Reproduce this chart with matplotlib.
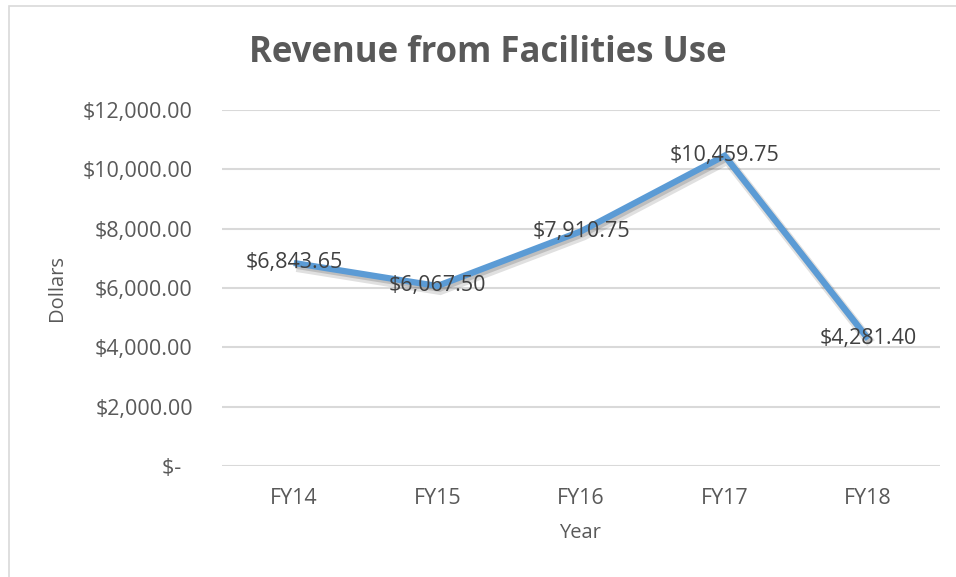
import matplotlib.pyplot as plt
import matplotlib.patheffects as pe
from matplotlib.patches import Rectangle

years = ["FY14", "FY15", "FY16", "FY17", "FY18"]
revenue = [6843.65, 6067.50, 7910.75, 10459.75, 4281.40]
yticks = [0, 2000, 4000, 6000, 8000, 10000, 12000]

plt.rcParams["font.family"] = ["Open Sans", "DejaVu Sans"]

fig = plt.figure(figsize=(9.56, 5.77), dpi=100)
ax = fig.add_axes([222 / 956, 1 - 466 / 577, 718 / 956, 356 / 577])

# chart border (only top/left visible in the cropped original)
fig.patches.append(Rectangle((8.5 / 956, -0.1), 1.2, 1 - 5.5 / 577 + 0.1,
                             transform=fig.transFigure, fill=False,
                             edgecolor="#D9D9D9", linewidth=1.2))

x = list(range(len(years)))
ax.plot(x, revenue, color="#5B9BD5", linewidth=4.5, solid_joinstyle="miter",
        solid_capstyle="butt", zorder=3,
        path_effects=[pe.SimpleLineShadow(offset=(2, -3), shadow_color="black", alpha=0.12, linewidth=7),
                      pe.SimpleLineShadow(offset=(1.5, -2), shadow_color="black", alpha=0.15),
                      pe.Normal()])

for xi, v in zip(x, revenue):
    ax.text(xi, v, f"${v:,.2f}", ha="center", va="center", fontsize=15.5,
            color="#404040", zorder=4)

ax.set_xlim(-0.5, len(years) - 0.5)
ax.set_ylim(0, 12000)
ax.set_yticks(yticks)
ax.set_yticklabels([f"${t:,.2f}" if t else "$-  " for t in yticks])
ax.set_xticks(x)
ax.set_xticklabels(years)
ax.tick_params(axis="both", length=0, labelsize=15.5, labelcolor="#595959")
ax.tick_params(axis="y", pad=21)
ax.tick_params(axis="x", pad=16)
ax.grid(axis="y", color="#D9D9D9", linewidth=1.5)
ax.set_axisbelow(True)
for s in ax.spines.values():
    s.set_visible(False)

fig.text(57 / 956, 1 - 288 / 577, "Dollars", rotation=90, ha="center", va="center",
         fontsize=14.5, color="#595959")
fig.text(580 / 956, 1 - 533 / 577, "Year", ha="center", va="center",
         fontsize=14.5, color="#595959")
fig.text(488 / 956, 1 - 62 / 577, "Revenue from Facilities Use", ha="center",
         va="baseline", fontsize=25, fontweight="bold", color="#595959")

fig.savefig("out.png", dpi=100)
